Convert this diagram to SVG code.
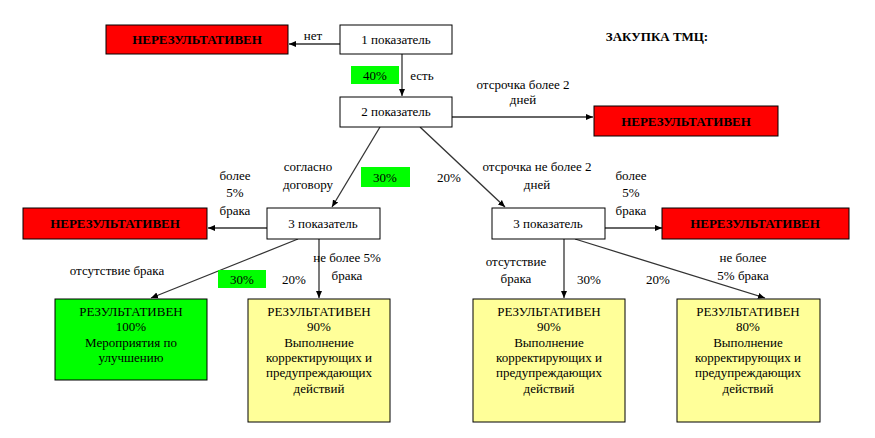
<svg xmlns="http://www.w3.org/2000/svg" width="875" height="438" viewBox="0 0 875 438" font-family="'Liberation Serif', 'DejaVu Serif', serif">
<defs>
<marker id="ah" markerWidth="8" markerHeight="8" refX="7" refY="4" orient="auto" markerUnits="userSpaceOnUse">
<path d="M0,1 L7,4 L0,7 Z" fill="#000"/>
</marker>
</defs>
<style>
text{font-family:'Liberation Serif','DejaVu Serif',serif;font-size:13px;fill:#000}
.c{text-anchor:middle}
.b{font-weight:bold;font-size:13px}
.box{stroke:#000;stroke-width:1}
.w{fill:#fff}
.r{fill:#ff0000}
.g{fill:#00ff00}
.y{fill:#ffff99}
.tag{fill:#00ff00}
.ln{stroke:#333;stroke-width:1.3;fill:none;marker-end:url(#ah)}
</style>
<rect width="875" height="438" fill="#fff"/>
<text class="b c" x="657" y="41">ЗАКУПКА ТМЦ:</text>
<g id="connectors">
<line class="ln" x1="340" y1="44" x2="289" y2="44"/>
<line class="ln" x1="402" y1="54" x2="402" y2="96"/>
<line class="ln" x1="452" y1="117" x2="593" y2="117"/>
<line class="ln" x1="380" y1="127" x2="332" y2="207"/>
<line class="ln" x1="420" y1="127" x2="505" y2="207"/>
<line class="ln" x1="267" y1="228" x2="208" y2="228"/>
<line class="ln" x1="298" y1="239" x2="151" y2="298"/>
<line class="ln" x1="319" y1="239" x2="319" y2="298"/>
<line class="ln" x1="605" y1="228" x2="662" y2="228"/>
<line class="ln" x1="564" y1="239" x2="564" y2="298"/>
<line class="ln" x1="575" y1="239" x2="765" y2="298"/>
</g>
<g id="labels">
<text class="c" x="313" y="40">нет</text>
<rect class="tag" x="351" y="66" width="48" height="18"/>
<text class="c" x="375" y="80">40%</text>
<text class="c" x="422" y="80">есть</text>
<text class="c" x="523" y="89">отсрочка более 2</text>
<text class="c" x="523" y="104">дней</text>
<text class="c" x="308" y="171">согласно</text>
<text class="c" x="308" y="189">договору</text>
<rect class="tag" x="361" y="167" width="49" height="20"/>
<text class="c" x="385" y="182">30%</text>
<text class="c" x="449" y="182">20%</text>
<text class="c" x="235" y="180">более</text>
<text class="c" x="235" y="197">5%</text>
<text class="c" x="235" y="215">брака</text>
<text class="c" x="537" y="171">отсрочка не более 2</text>
<text class="c" x="537" y="189">дней</text>
<text class="c" x="631" y="180">более</text>
<text class="c" x="631" y="197">5%</text>
<text class="c" x="631" y="215">брака</text>
<text class="c" x="117" y="275">отсутствие брака</text>
<rect class="tag" x="218" y="270" width="48" height="18"/>
<text class="c" x="242" y="284">30%</text>
<text class="c" x="294" y="284">20%</text>
<text class="c" x="347" y="262">не более 5%</text>
<text class="c" x="347" y="280">брака</text>
<text class="c" x="516" y="266">отсутствие</text>
<text class="c" x="516" y="283">брака</text>
<text class="c" x="589" y="284">30%</text>
<text class="c" x="658" y="284">20%</text>
<text class="c" x="743" y="262">не более</text>
<text class="c" x="743" y="280">5% брака</text>
</g>
<g id="n_bad1">
<rect class="box r" x="106" y="25" width="182" height="29"/>
<text class="b c" x="197" y="44">НЕРЕЗУЛЬТАТИВЕН</text>
</g>
<g id="n_p1">
<rect class="box w" x="340" y="25" width="112" height="29"/>
<text class="c" x="396" y="44">1 показатель</text>
</g>
<g id="n_p2">
<rect class="box w" x="340" y="97" width="112" height="30"/>
<text class="c" x="396" y="116">2 показатель</text>
</g>
<g id="n_bad2">
<rect class="box r" x="594" y="106" width="184" height="30"/>
<text class="b c" x="686" y="126">НЕРЕЗУЛЬТАТИВЕН</text>
</g>
<g id="n_p3a">
<rect class="box w" x="267" y="208" width="113" height="31"/>
<text class="c" x="323" y="228">3 показатель</text>
</g>
<g id="n_bad3">
<rect class="box r" x="23" y="208" width="184" height="31"/>
<text class="b c" x="115" y="228">НЕРЕЗУЛЬТАТИВЕН</text>
</g>
<g id="n_p3b">
<rect class="box w" x="492" y="208" width="113" height="31"/>
<text class="c" x="548" y="228">3 показатель</text>
</g>
<g id="n_bad4">
<rect class="box r" x="662" y="208" width="187" height="31"/>
<text class="b c" x="755" y="228">НЕРЕЗУЛЬТАТИВЕН</text>
</g>
<g id="n_r100">
<rect class="box g" x="55" y="299" width="152" height="81"/>
<text class="c" x="131" y="316">РЕЗУЛЬТАТИВЕН</text>
<text class="c" x="131" y="331">100%</text>
<text class="c" x="131" y="347">Мероприятия по</text>
<text class="c" x="131" y="362">улучшению</text>
</g>
<g id="n_r90a">
<rect class="box y" x="248" y="299" width="142" height="123"/>
<text class="c" x="319" y="316">РЕЗУЛЬТАТИВЕН</text>
<text class="c" x="319" y="331">90%</text>
<text class="c" x="319" y="347">Выполнение</text>
<text class="c" x="319" y="362">корректирующих и</text>
<text class="c" x="319" y="377">предупреждающих</text>
<text class="c" x="319" y="393">действий</text>
</g>
<g id="n_r90b">
<rect class="box y" x="473" y="299" width="152" height="123"/>
<text class="c" x="549" y="316">РЕЗУЛЬТАТИВЕН</text>
<text class="c" x="549" y="331">90%</text>
<text class="c" x="549" y="347">Выполнение</text>
<text class="c" x="549" y="362">корректирующих и</text>
<text class="c" x="549" y="377">предупреждающих</text>
<text class="c" x="549" y="393">действий</text>
</g>
<g id="n_r80">
<rect class="box y" x="677" y="299" width="143" height="123"/>
<text class="c" x="748" y="316">РЕЗУЛЬТАТИВЕН</text>
<text class="c" x="748" y="331">80%</text>
<text class="c" x="748" y="347">Выполнение</text>
<text class="c" x="748" y="362">корректирующих и</text>
<text class="c" x="748" y="377">предупреждающих</text>
<text class="c" x="748" y="393">действий</text>
</g>
</svg>
